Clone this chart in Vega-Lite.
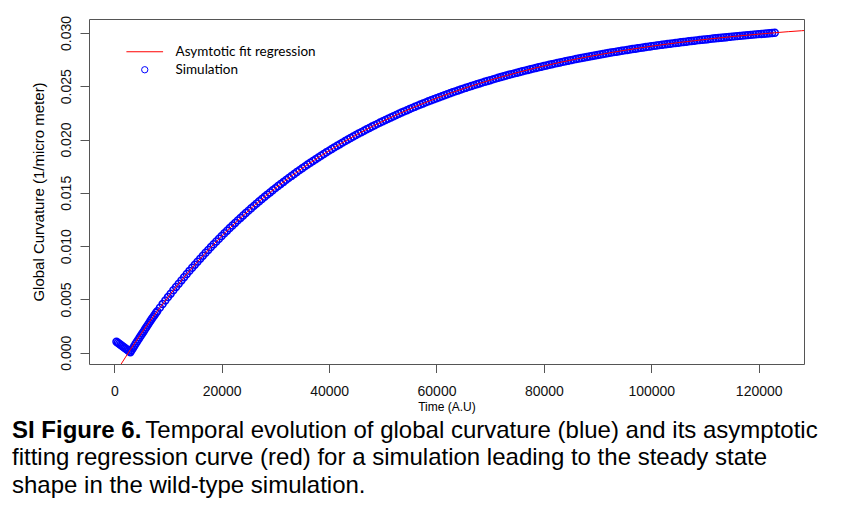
{
"$schema": "https://vega.github.io/schema/vega-lite/v6.json",
"width": 715, "height": 345,
"autosize": "none",
"padding": {"left": 89, "top": 19, "right": 51, "bottom": 161},
"background": "white",
"config": {"view": {"stroke": "#555", "strokeWidth": 1}, "font": "Liberation Sans"},
"title": {
 "text": "SI Figure 6.",
 "subtitle": ["\u200b\u00a0\u00a0\u00a0\u00a0\u00a0\u00a0\u00a0\u00a0\u00a0\u00a0\u00a0\u00a0\u00a0\u00a0\u00a0\u00a0\u00a0\u00a0\u00a0\u00a0Temporal evolution of global curvature (blue) and its asymptotic", "fitting regression curve (red) for a simulation leading to the steady state", "shape in the wild-type simulation."],
 "orient": "bottom", "anchor": "start", "frame": "group", "dx": -77, "offset": 6,
 "font": "Liberation Sans", "fontSize": 24, "fontWeight": "bold", "color": "black", "lineHeight": 27.5,
 "subtitleFont": "Liberation Sans", "subtitleFontSize": 24, "subtitleFontWeight": "normal", "subtitleColor": "black", "subtitleLineHeight": 27.5, "subtitlePadding": -24
},
"datasets": {
"fit": [
{"t":1000,"v":-0.00128},{"t":2000,"v":-0.00049},{"t":2626,"v":0},{"t":3000,"v":0.00029},{"t":5500,"v":0.00215},{"t":8000,"v":0.00389},{"t":10500,"v":0.00554},{"t":13000,"v":0.00709},{"t":15500,"v":0.00854},{"t":18000,"v":0.00991},{"t":20500,"v":0.0112},{"t":23000,"v":0.01241},{"t":25500,"v":0.01356},{"t":28000,"v":0.01463},{"t":30500,"v":0.01564},{"t":33000,"v":0.01659},{"t":35500,"v":0.01748},{"t":38000,"v":0.01832},{"t":40500,"v":0.01911},{"t":43000,"v":0.01986},{"t":45500,"v":0.02056},{"t":48000,"v":0.02122},{"t":50500,"v":0.02184},{"t":53000,"v":0.02242},{"t":55500,"v":0.02297},{"t":58000,"v":0.02349},{"t":60500,"v":0.02397},{"t":63000,"v":0.02443},{"t":65500,"v":0.02486},{"t":68000,"v":0.02526},{"t":70500,"v":0.02565},{"t":73000,"v":0.026},{"t":75500,"v":0.02634},{"t":78000,"v":0.02666},{"t":80500,"v":0.02696},{"t":83000,"v":0.02724},{"t":85500,"v":0.0275},{"t":88000,"v":0.02775},{"t":90500,"v":0.02798},{"t":93000,"v":0.0282},{"t":95500,"v":0.02841},{"t":98000,"v":0.0286},{"t":100500,"v":0.02879},{"t":103000,"v":0.02896},{"t":105500,"v":0.02912},{"t":108000,"v":0.02927},{"t":110500,"v":0.02942},{"t":113000,"v":0.02955},{"t":115500,"v":0.02968},{"t":118000,"v":0.0298},{"t":120500,"v":0.02991},{"t":123000,"v":0.03002},{"t":125500,"v":0.03012},{"t":128000,"v":0.03021},{"t":130000,"v":0.03028}
],
"sim": [
{"t":400,"v":0.00103},{"t":650,"v":0.00094},{"t":900,"v":0.00084},{"t":1150,"v":0.00075},{"t":1400,"v":0.00065},{"t":1650,"v":0.00056},{"t":1900,"v":0.00046},{"t":2150,"v":0.00037},{"t":2400,"v":0.00028},{"t":2650,"v":0.00018},{"t":2900,"v":0.00009},{"t":3000,"v":0.00005},
{"t":3250,"v":0.00025},{"t":3500,"v":0.00045},{"t":3750,"v":0.00066},{"t":4000,"v":0.00087},{"t":4250,"v":0.00106},{"t":4500,"v":0.00125},{"t":4750,"v":0.00144},{"t":5000,"v":0.00163},{"t":5250,"v":0.00183},{"t":5500,"v":0.00202},{"t":5750,"v":0.00222},{"t":6000,"v":0.00241},{"t":6250,"v":0.00261},{"t":6500,"v":0.0028},{"t":6750,"v":0.00299},{"t":7000,"v":0.00318},{"t":7250,"v":0.00336},{"t":7500,"v":0.00354},{"t":7750,"v":0.00372},{"t":8000,"v":0.00389},
{"t":8500,"v":0.004231},{"t":9000,"v":0.004564},{"t":9500,"v":0.004893},{"t":10000,"v":0.005218},{"t":10500,"v":0.005539},{"t":11000,"v":0.005856},{"t":11500,"v":0.006169},{"t":12000,"v":0.006479},{"t":12500,"v":0.006784},
{"t":13000,"v":0.007087},{"t":13500,"v":0.007385},{"t":14000,"v":0.00768},{"t":14500,"v":0.007971},{"t":15000,"v":0.008259},{"t":15500,"v":0.008543},{"t":16000,"v":0.008824},{"t":16500,"v":0.009101},{"t":17000,"v":0.009375},{"t":17500,"v":0.009645},
{"t":18000,"v":0.009912},{"t":18500,"v":0.010176},{"t":19000,"v":0.010437},{"t":19500,"v":0.010695},{"t":20000,"v":0.010949},{"t":20500,"v":0.011201},{"t":21000,"v":0.011449},{"t":21500,"v":0.011695},{"t":22000,"v":0.011937},{"t":22500,"v":0.012177},
{"t":23000,"v":0.012414},{"t":23500,"v":0.012648},{"t":24000,"v":0.012879},{"t":24500,"v":0.013107},{"t":25000,"v":0.013332},{"t":25500,"v":0.013555},{"t":26000,"v":0.013775},{"t":26500,"v":0.013992},{"t":27000,"v":0.014207},{"t":27500,"v":0.014419},
{"t":28000,"v":0.014628},{"t":28500,"v":0.014835},{"t":29000,"v":0.015039},{"t":29500,"v":0.015241},{"t":30000,"v":0.015441},{"t":30500,"v":0.015638},{"t":31000,"v":0.015833},{"t":31500,"v":0.016025},{"t":32000,"v":0.016215},{"t":32500,"v":0.016403},
{"t":33000,"v":0.016588},{"t":33500,"v":0.016771},{"t":34000,"v":0.016952},{"t":34500,"v":0.017131},{"t":35000,"v":0.017307},{"t":35500,"v":0.017482},{"t":36000,"v":0.017654},{"t":36500,"v":0.017825},{"t":37000,"v":0.017993},{"t":37500,"v":0.018159},
{"t":38000,"v":0.018323},{"t":38500,"v":0.018485},{"t":39000,"v":0.018645},{"t":39500,"v":0.018804},{"t":40000,"v":0.01896},{"t":40500,"v":0.019114},{"t":41000,"v":0.019267},{"t":41500,"v":0.019418},{"t":42000,"v":0.019566},{"t":42500,"v":0.019714},
{"t":43000,"v":0.019859},{"t":43500,"v":0.020003},{"t":44000,"v":0.020144},{"t":44500,"v":0.020284},{"t":45000,"v":0.020423},{"t":45500,"v":0.020559},{"t":46000,"v":0.020694},{"t":46500,"v":0.020828},{"t":47000,"v":0.02096},{"t":47500,"v":0.02109},
{"t":48000,"v":0.021218},{"t":48500,"v":0.021345},{"t":49000,"v":0.021471},{"t":49500,"v":0.021595},{"t":50000,"v":0.021717},{"t":50500,"v":0.021838},{"t":51000,"v":0.021958},{"t":51500,"v":0.022076},{"t":52000,"v":0.022192},{"t":52500,"v":0.022308},
{"t":53000,"v":0.022422},{"t":53500,"v":0.022534},{"t":54000,"v":0.022646},{"t":54500,"v":0.022755},{"t":55000,"v":0.022864},{"t":55500,"v":0.022971},{"t":56000,"v":0.023077},{"t":56500,"v":0.023181},{"t":57000,"v":0.023284},{"t":57500,"v":0.023386},
{"t":58000,"v":0.023487},{"t":58500,"v":0.023587},{"t":59000,"v":0.023685},{"t":59500,"v":0.023782},{"t":60000,"v":0.023878},{"t":60500,"v":0.023973},{"t":61000,"v":0.024066},{"t":61500,"v":0.024159},{"t":62000,"v":0.02425},{"t":62500,"v":0.024341},
{"t":63000,"v":0.02443},{"t":63500,"v":0.024518},{"t":64000,"v":0.024605},{"t":64500,"v":0.024691},{"t":65000,"v":0.024776},{"t":65500,"v":0.02486},{"t":66000,"v":0.024943},{"t":66500,"v":0.025025},{"t":67000,"v":0.025106},{"t":67500,"v":0.025186},
{"t":68000,"v":0.025264},{"t":68500,"v":0.025342},{"t":69000,"v":0.025419},{"t":69500,"v":0.025495},{"t":70000,"v":0.02557},{"t":70500,"v":0.025645},{"t":71000,"v":0.025718},{"t":71500,"v":0.025791},{"t":72000,"v":0.025862},{"t":72500,"v":0.025933},
{"t":73000,"v":0.026003},{"t":73500,"v":0.026072},{"t":74000,"v":0.02614},{"t":74500,"v":0.026208},{"t":75000,"v":0.026274},{"t":75500,"v":0.02634},{"t":76000,"v":0.026405},{"t":76500,"v":0.026469},{"t":77000,"v":0.026533},{"t":77500,"v":0.026595},
{"t":78000,"v":0.026657},{"t":78500,"v":0.026718},{"t":79000,"v":0.026779},{"t":79500,"v":0.026838},{"t":80000,"v":0.026897},{"t":80500,"v":0.026955},{"t":81000,"v":0.027013},{"t":81500,"v":0.02707},{"t":82000,"v":0.027126},{"t":82500,"v":0.027181},
{"t":83000,"v":0.027236},{"t":83500,"v":0.02729},{"t":84000,"v":0.027344},{"t":84500,"v":0.027396},{"t":85000,"v":0.027449},{"t":85500,"v":0.0275},{"t":86000,"v":0.027551},{"t":86500,"v":0.027601},{"t":87000,"v":0.027651},{"t":87500,"v":0.0277},
{"t":88000,"v":0.027749},{"t":88500,"v":0.027797},{"t":89000,"v":0.027844},{"t":89500,"v":0.027891},{"t":90000,"v":0.027937},{"t":90500,"v":0.027983},{"t":91000,"v":0.028028},{"t":91500,"v":0.028072},{"t":92000,"v":0.028116},{"t":92500,"v":0.02816},
{"t":93000,"v":0.028202},{"t":93500,"v":0.028244},{"t":94000,"v":0.028286},{"t":94500,"v":0.028328},{"t":95000,"v":0.028369},{"t":95500,"v":0.028409},{"t":96000,"v":0.028449},{"t":96500,"v":0.028488},{"t":97000,"v":0.028527},{"t":97500,"v":0.028566},
{"t":98000,"v":0.028604},{"t":98500,"v":0.028642},{"t":99000,"v":0.028679},{"t":99500,"v":0.028715},{"t":100000,"v":0.028751},{"t":100500,"v":0.028787},{"t":101000,"v":0.028822},{"t":101500,"v":0.028857},{"t":102000,"v":0.028892},{"t":102500,"v":0.028926},
{"t":103000,"v":0.028959},{"t":103500,"v":0.028992},{"t":104000,"v":0.029025},{"t":104500,"v":0.029058},{"t":105000,"v":0.029089},{"t":105500,"v":0.029121},{"t":106000,"v":0.029152},{"t":106500,"v":0.029183},{"t":107000,"v":0.029214},{"t":107500,"v":0.029244},
{"t":108000,"v":0.029274},{"t":108500,"v":0.029303},{"t":109000,"v":0.029333},{"t":109500,"v":0.029361},{"t":110000,"v":0.02939},{"t":110500,"v":0.029418},{"t":111000,"v":0.029445},{"t":111500,"v":0.029473},{"t":112000,"v":0.0295},{"t":112500,"v":0.029526},
{"t":113000,"v":0.029553},{"t":113500,"v":0.029579},{"t":114000,"v":0.029605},{"t":114500,"v":0.02963},{"t":115000,"v":0.029655},{"t":115500,"v":0.02968},{"t":116000,"v":0.029704},{"t":116500,"v":0.029729},{"t":117000,"v":0.029753},{"t":117500,"v":0.029776},
{"t":118000,"v":0.029799},{"t":118500,"v":0.029822},{"t":119000,"v":0.029845},{"t":119500,"v":0.029867},{"t":120000,"v":0.02989},{"t":120500,"v":0.029911},{"t":121000,"v":0.029933},{"t":121500,"v":0.029955},{"t":122000,"v":0.029976},{"t":122500,"v":0.029997},
{"t":123000,"v":0.030017}
]
},
"layer": [
{
 "data": {"name": "sim"},
 "mark": {"type": "point", "filled": false, "size": 48, "strokeWidth": 1.5, "opacity": 1},
 "encoding": {
  "x": {"field": "t", "type": "quantitative", "scale": {"domain": [-4711, 128436], "nice": false, "zero": false},
   "axis": {"values": [0,20000,40000,60000,80000,100000,120000], "format": "d", "title": "Time (A.U)", "titleFont": "Liberation Sans", "titleFontSize": 12, "titleFontWeight": "normal", "titleColor": "black", "titlePadding": 3, "labelFont": "Liberation Sans", "labelFontSize": 14, "labelColor": "#111", "labelPadding": 12, "labelFlush": false, "tickSize": 8.5, "tickColor": "#555", "tickWidth": 1, "domain": false, "grid": false}},
  "y": {"field": "v", "type": "quantitative", "scale": {"domain": [-0.00106, 0.03131], "nice": false, "zero": false},
   "axis": {"values": [0,0.005,0.01,0.015,0.02,0.025,0.03], "format": ".3f", "title": "Global Curvature (1/micro meter)", "titleFont": "Liberation Sans", "titleFontSize": 15, "titleFontWeight": "normal", "titleColor": "black", "titlePadding": 13, "labelFont": "Liberation Sans", "labelFontSize": 14, "labelColor": "#111", "labelAngle": -90, "labelAlign": "center", "labelBaseline": "alphabetic", "labelPadding": 10, "labelFlush": false, "tickSize": 9, "tickColor": "#555", "tickWidth": 1, "domain": false, "grid": false}},
  "color": {"datum": "Simulation", "scale": {"domain": ["Asymtotic fit regression", "Simulation"], "range": ["red", "blue"]},
   "legend": {"title": null, "orient": "none", "legendX": 49, "legendY": 26, "labelFont": "Lato", "labelFontSize": 13.5, "labelColor": "black", "labelOffset": 24, "rowPadding": 3, "padding": 0, "symbolStrokeWidth": 1, "symbolSize": 40}},
  "shape": {"datum": "Simulation", "scale": {"domain": ["Asymtotic fit regression", "Simulation"], "range": ["M-5.8,0H5.8", "circle"]},
   "legend": {"title": null, "orient": "none", "legendX": 49, "legendY": 26, "labelFont": "Lato", "labelFontSize": 13.5, "labelColor": "black", "labelOffset": 24, "rowPadding": 3, "padding": 0, "symbolStrokeWidth": 1, "symbolSize": 40}}
 }
},
{
 "data": {"name": "fit"},
 "mark": {"type": "line", "color": "red", "strokeWidth": 1, "clip": true},
 "encoding": {
  "x": {"field": "t", "type": "quantitative"},
  "y": {"field": "v", "type": "quantitative"}
 }
}
]
}
